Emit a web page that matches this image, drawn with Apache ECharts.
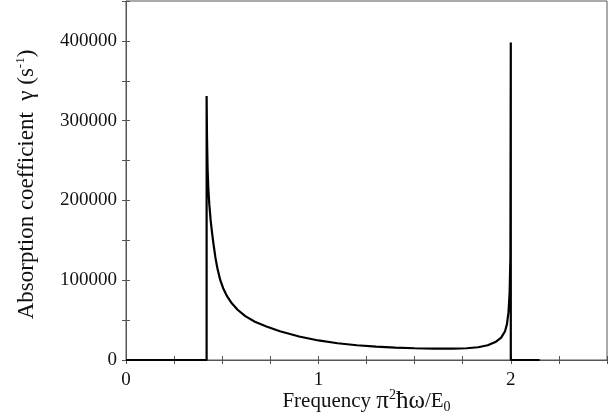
<!DOCTYPE html>
<html>
<head>
<meta charset="utf-8">
<script src="https://cdn.jsdelivr.net/npm/echarts@6/dist/echarts.min.js"></script>
<style>
  html, body { margin: 0; padding: 0; background: #fff; }
  #chart { width: 613px; height: 419px; }
</style>
</head>
<body>
<div id="chart"></div>
<script>
// frequency (pi^2 hbar omega / E0) and absorption coefficient gamma (s^-1)
const freqX = [0, 0.419, 0.419, 0.421, 0.424, 0.428, 0.433, 0.440, 0.447, 0.455, 0.465, 0.475,
  0.490, 0.505, 0.525, 0.550, 0.580, 0.620, 0.670, 0.730, 0.800, 0.900, 1.000, 1.100, 1.200,
  1.300, 1.400, 1.500, 1.600, 1.700, 1.770, 1.830, 1.880, 1.920, 1.950, 1.970, 1.980, 1.988,
  1.994, 1.998, 2.0, 2.0, 2.15];
const gammaY = [0, 0, 331000, 280000, 240000, 215000, 195000, 175000, 160000, 145000, 128000, 115000,
  100000, 90000, 80000, 71000, 63000, 55000, 48000, 42000, 36000, 29500, 24500, 21000, 18500,
  16800, 15500, 14700, 14200, 14200, 14700, 16000, 18500, 22500, 28000, 36000, 45000, 60000,
  85000, 130000, 398000, 0, 0];

const xTicks = [0, 1, 2];
const yTicks = [0, 100000, 200000, 300000, 400000];

const serif = 'Liberation Serif';
const frameColor = '#555';

const myChart = echarts.init(document.getElementById('chart'));

const tickStyle = { show: true, inside: true, length: 4, lineStyle: { color: frameColor, width: 1 } };

const option = {
  backgroundColor: '#fff',
  animation: false,
  grid: {
    left: 126, right: 6, top: 1, bottom: 59,
    outerBoundsMode: 'none',
    show: true, borderColor: frameColor, borderWidth: 1
  },
  xAxis: [
    {
      type: 'value', min: 0, max: 2.5, interval: 0.25,
      name: 'Frequency {sym|π}{sup|2}{sym|ħω}/E{sub|0}',
      nameLocation: 'middle', nameGap: 28, nameMoveOverlap: false,
      nameTextStyle: {
        fontFamily: serif, fontSize: 21, color: '#111', lineHeight: 26,
        rich: {
          sym: { fontFamily: serif, fontSize: 25, color: '#111', lineHeight: 26 },
          sup: { fontFamily: serif, fontSize: 14, color: '#111', verticalAlign: 'top', lineHeight: 26 },
          sub: { fontFamily: serif, fontSize: 14, color: '#111', verticalAlign: 'bottom', lineHeight: 26 }
        }
      },
      axisLine: { show: true, lineStyle: { color: frameColor, width: 1 } },
      axisTick: tickStyle,
      splitLine: { show: false },
      axisLabel: {
        fontFamily: serif, fontSize: 19, color: '#111', margin: 11,
        formatter: v => (xTicks.indexOf(v) >= 0 ? String(v) : '')
      }
    },
    {
      type: 'value', min: 0, max: 2.5, interval: 0.25, position: 'top',
      axisLine: { show: false }, axisTick: tickStyle,
      axisLabel: { show: false }, splitLine: { show: false }
    }
  ],
  yAxis: [
    {
      type: 'value', min: 0, max: 450000, interval: 50000,
      name: 'Absorption coefficient  γ (s{sup|-1})',
      nameLocation: 'middle', nameGap: 86, nameMoveOverlap: false,
      nameTextStyle: {
        fontFamily: serif, fontSize: 23, color: '#111', lineHeight: 26, padding: [0, 8, 0, 0],
        rich: {
          sup: { fontFamily: serif, fontSize: 13, color: '#111', verticalAlign: 'top', lineHeight: 26 }
        }
      },
      axisLine: { show: true, lineStyle: { color: frameColor, width: 1 } },
      axisTick: tickStyle,
      splitLine: { show: false },
      axisLabel: {
        fontFamily: serif, fontSize: 19, color: '#111', margin: 9,
        formatter: v => (yTicks.indexOf(v) >= 0 ? String(v) : '')
      }
    },
    {
      type: 'value', min: 0, max: 450000, interval: 50000, position: 'right',
      axisLine: { show: false }, axisTick: tickStyle,
      axisLabel: { show: false }, splitLine: { show: false }
    }
  ],
  series: [
    {
      type: 'line',
      showSymbol: false,
      data: freqX.map((x, i) => [x, gammaY[i]]),
      lineStyle: { color: '#000', width: 2.2 },
      itemStyle: { color: '#000' }
    }
  ]
};

myChart.setOption(option);
</script>
</body>
</html>
